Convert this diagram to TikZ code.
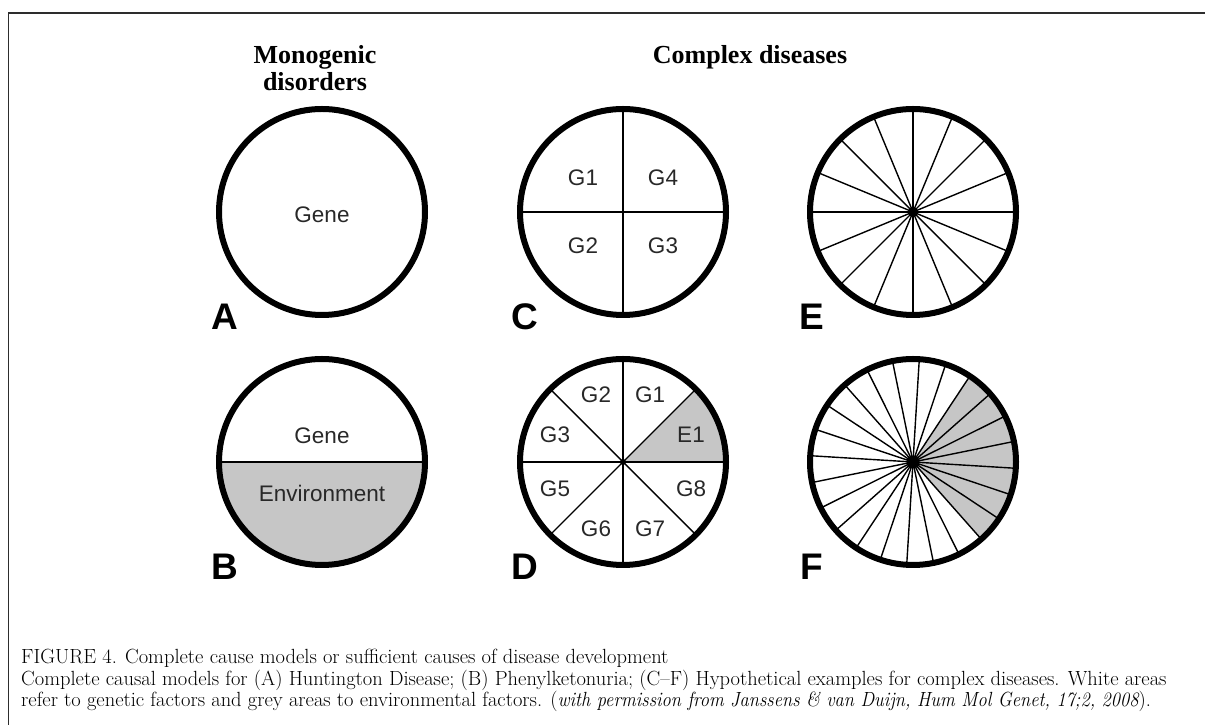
\documentclass[tikz,border=0pt]{standalone}
\usepackage{fontspec}
\usetikzlibrary{calc}
\newfontfamily\sansf{Liberation Sans}
\newfontfamily\seriff{Liberation Serif}
\definecolor{gfill}{RGB}{198,198,198}
\definecolor{framec}{RGB}{45,45,45}
\definecolor{txtc}{RGB}{40,40,40}
\tikzset{
  ring/.style={line width=6pt, draw=black},
  spoke/.style={line width=1.4pt, draw=black},
  gtxt/.style={font=\sansf\fontsize{22.5}{22.5}\selectfont, text=txtc, inner sep=0pt},
  lab/.style={font=\sansf\bfseries\fontsize{37}{37}\selectfont, inner sep=0pt},
  ttl/.style={font=\seriff\bfseries\fontsize{26}{26}\selectfont, inner sep=0pt},
  captxt/.style={font=\rmfamily\fontsize{20.5}{21}\selectfont, anchor=base west, inner sep=0pt},
}
\newcommand{\capit}[1]{\scalebox{0.9}[1]{\itshape #1}}
\begin{document}
\begin{tikzpicture}[x=1pt,y=1pt]
\useasboundingbox (0,0) rectangle (1205,725);
% frame
\draw[framec, line width=1.5pt] (8.5,0) -- (8.5,712) -- (1205,712);
% centres
\coordinate (cA) at (322,513);
\coordinate (cB) at (322,263);
\coordinate (cC) at (623,513);
\coordinate (cD) at (623,263);
\coordinate (cE) at (913,513);
\coordinate (cF) at (913,263);
\def\R{103}
% titles
\node[ttl] (t1) at (315,668) {Monogenic};
\node[ttl] (t2) at (315,643) {disorders};
\node[ttl] (t3) at (750,668) {Complex diseases};
% A
\node[gtxt] (gA) at ($(cA)+(0,-3)$) {Gene};
\draw[ring] (cA) circle (\R);
% B
\fill[gfill] ($(cB)+(-\R,0)$) arc[start angle=180,end angle=360,radius=\R] -- cycle;
\draw[spoke] ($(cB)+(-\R,0)$) -- ($(cB)+(\R,0)$);
\node[gtxt] (gB1) at ($(cB)+(0,26)$) {Gene};
\node[gtxt] (gB2) at ($(cB)+(0,-31)$) {Environment};
\draw[ring] (cB) circle (\R);
% C
\draw[spoke] ($(cC)+(-\R,0)$) -- ($(cC)+(\R,0)$);
\draw[spoke] ($(cC)+(0,-\R)$) -- ($(cC)+(0,\R)$);
\node[gtxt] (c1) at ($(cC)+(-40,34)$) {G1};
\node[gtxt] (c4) at ($(cC)+(40,34)$) {G4};
\node[gtxt] (c2) at ($(cC)+(-40,-34)$) {G2};
\node[gtxt] (c3) at ($(cC)+(40,-34)$) {G3};
\draw[ring] (cC) circle (\R);
% D
\fill[gfill] (cD) -- ($(cD)+(0:\R)$) arc[start angle=0,end angle=45,radius=\R] -- cycle;
\foreach \a in {0,45,90,135}
  \draw[spoke] ($(cD)+(\a:\R)$) -- ($(cD)+(\a+180:\R)$);
\fill (cD) circle (3);
\node[gtxt] (d2) at ($(cD)+(-27,67)$) {G2};
\node[gtxt] (d1) at ($(cD)+(27,67)$) {G1};
\node[gtxt] (d3) at ($(cD)+(-68,27)$) {G3};
\node[gtxt] (e1) at ($(cD)+(68,27)$) {E1};
\node[gtxt] (d5) at ($(cD)+(-68,-27)$) {G5};
\node[gtxt] (d8) at ($(cD)+(68,-27)$) {G8};
\node[gtxt] (d6) at ($(cD)+(-27,-67)$) {G6};
\node[gtxt] (d7) at ($(cD)+(27,-67)$) {G7};
\draw[ring] (cD) circle (\R);
% E
\foreach \k in {0,...,15}
  \draw[spoke] (cE) -- ($(cE)+(22.5*\k:\R)$);
\fill (cE) circle (5);
\draw[ring] (cE) circle (\R);
% F
\fill[gfill] (cF) -- ($(cF)+(-48.5:\R)$) arc[start angle=-48.5,end angle=56.5,radius=\R] -- cycle;
\foreach \k in {0,...,23}
  \draw[spoke] (cF) -- ($(cF)+(11.5+15*\k:\R)$);
\fill (cF) circle (6.5);
\draw[ring] (cF) circle (\R);
% letters
\node[lab] (lA) at (225,408) {A};
\node[lab] (lC) at (525,408) {C};
\node[lab] (lE) at (812,408) {E};
\node[lab] (lB) at (225,158) {B};
\node[lab] (lD) at (525,158) {D};
\node[lab] (lF) at (812,158) {F};
% caption
\node[captxt] (k1) at (21,61) {FIGURE 4. Complete cause models or sufficient causes of disease development};
\node[captxt] (k2) at (21,39) {Complete causal models for (A) Huntington Disease; (B) Phenylketonuria; (C–F) Hypothetical examples for complex diseases. White areas};
\node[captxt] (k3) at (21,18) {refer to genetic factors and grey areas to environmental factors. (\capit{with permission from Janssens \& van Duijn, Hum Mol Genet, 17;2, 2008}).};
\end{tikzpicture}
\end{document}
